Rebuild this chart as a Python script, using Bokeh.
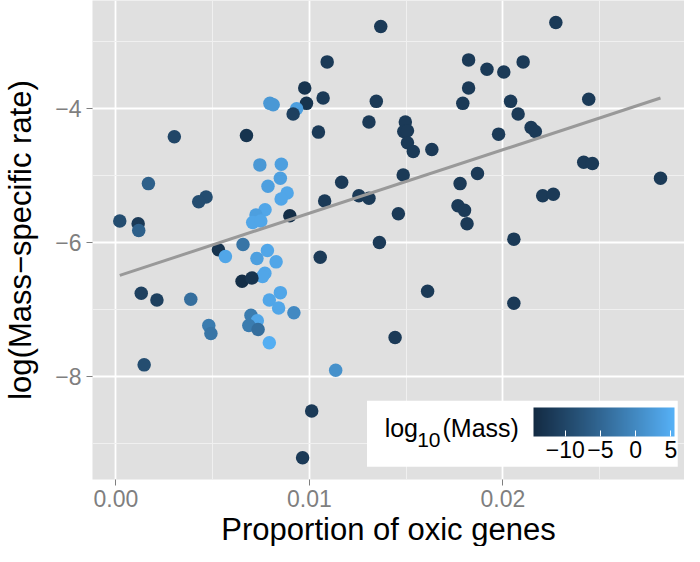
import numpy as np
from bokeh.plotting import figure
from bokeh.models import (ColumnDataSource, Range1d, FixedTicker, CustomJSTickFormatter,
                          LinearColorMapper, ColorBar, Label, BoxAnnotation, AllLabels, Title)
from bokeh.embed import file_html
from bokeh.resources import INLINE

# ---------------- data ----------------
oxic = [0.01369, 0.01092, 0.00976, 0.01071, 0.01346, 0.00985, 0.00796, 0.00813, 0.00934, 0.00916,
        0.01308, 0.00302, 0.00675, 0.01047, 0.00744, 0.00855, 0.00850, 0.00786, 0.01167, 0.00168,
        0.00466, 0.00428, 0.00885, 0.00854, 0.01079, 0.01256, 0.01308, 0.00771, 0.00724, 0.00707,
        0.00749, 0.00899, 0.00020, 0.00115, 0.00118, 0.01362, 0.00657, 0.00530, 0.00566, 0.00783,
        0.00729, 0.00828, 0.01056, 0.00770, 0.00758, 0.00652, 0.00703, 0.00131, 0.00212, 0.00387,
        0.00850, 0.00793, 0.00841, 0.00920, 0.00698, 0.00731, 0.00687, 0.00735, 0.00480, 0.00491,
        0.00793, 0.00146, 0.01136, 0.01012, 0.00965, 0.02274, 0.01823, 0.01918, 0.02005, 0.02105,
        0.01823, 0.01793, 0.02040, 0.02444, 0.02079, 0.01496, 0.01488, 0.01507, 0.01507, 0.01537,
        0.01633, 0.01978, 0.02146, 0.02168, 0.01485, 0.01779, 0.01869, 0.02418, 0.02463, 0.02815,
        0.02206, 0.02261, 0.01460, 0.01768, 0.01802, 0.01815, 0.02057, 0.01611, 0.02057, 0.01443]

rate = [-2.77, -3.30, -3.69, -3.84, -3.89, -3.92, -3.92, -3.94, -4.00, -4.08,
        -4.20, -4.42, -4.40, -4.35, -4.84, -4.83, -5.04, -5.16, -5.10, -5.12,
        -5.32, -5.39, -5.26, -5.35, -5.38, -5.30, -5.34, -5.51, -5.59, -5.70,
        -5.68, -5.60, -5.68, -5.72, -5.82, -6.00, -6.03, -6.11, -6.21, -6.12,
        -6.24, -6.29, -6.22, -6.46, -6.51, -6.58, -6.53, -6.76, -6.86, -6.85,
        -6.75, -6.86, -6.98, -7.05, -7.09, -7.17, -7.24, -7.30, -7.24, -7.36,
        -7.50, -7.83, -7.91, -8.52, -9.22, -2.71, -3.27, -3.41, -3.45, -3.30,
        -3.69, -3.92, -3.89, -3.86, -4.08, -4.20, -4.34, -4.33, -4.51, -4.64,
        -4.61, -4.38, -4.28, -4.34, -4.99, -5.12, -4.97, -4.80, -4.82, -5.04,
        -5.30, -5.28, -5.57, -5.45, -5.52, -5.72, -5.95, -6.73, -6.91, -7.42]

log_mass = [-12, -12, -13, -12, -12, -13, 2, 2, 3, -11,
            -12, -10, -13, -12, 2, 3, 3, 3, -12, -6,
            -9, -9, 4, 4, -12, -12, -12, 4, 3, 4,
            4, -14, -9, -12, -6, -12, -3, -13, 4, 4,
            3, 4, -12, 4, 4, -14, -13, -11, -11, -4,
            4, 4, 4, 0, -2, 4, -2, -4, -2, -3,
            5, -9, 1, -12, -12, -12, -12, -12, -12, -12,
            -12, -12, -12, -12, -12, -12, -12, -12, -12, -12,
            -12, -12, -12, -12, -12, -12, -12, -12, -12, -12,
            -12, -12, -12, -12, -12, -12, -12, -12, -12, -12]

x_ticks = [0.0, 0.01, 0.02]
y_ticks = [-8, -6, -4]
mass_ticks = [-10, -5, 0, 5]
mass_limits = [-14.5, 5.5]

# ---------------- palette: ggplot2 default gradient (Lab interpolation) ----------------
def _hex2rgb(h):
    h = h.lstrip('#')
    return [int(h[i:i + 2], 16) / 255.0 for i in (0, 2, 4)]

def _to_lin(c):
    return c / 12.92 if c <= 0.04045 else ((c + 0.055) / 1.055) ** 2.4

def _from_lin(c):
    v = 12.92 * c if c <= 0.0031308 else 1.055 * c ** (1 / 2.4) - 0.055
    return min(1.0, max(0.0, v))

_M = np.array([[0.4124, 0.3576, 0.1805], [0.2126, 0.7152, 0.0722], [0.0193, 0.1192, 0.9505]])
_W = np.array([0.95047, 1.0, 1.08883])

def _f(t):
    return t ** (1 / 3) if t > 216 / 24389 else (24389 / 27 * t + 16) / 116

def _finv(t):
    return t ** 3 if t ** 3 > 216 / 24389 else (116 * t - 16) / (24389 / 27)

def rgb2lab(rgb):
    xyz = _M @ np.array([_to_lin(c) for c in rgb]) / _W
    fx, fy, fz = (_f(v) for v in xyz)
    return np.array([116 * fy - 16, 500 * (fx - fy), 200 * (fy - fz)])

def lab2hex(lab):
    L, a, b = lab
    fy = (L + 16) / 116
    fx = fy + a / 500
    fz = fy - b / 200
    xyz = np.array([_finv(fx), _finv(fy), _finv(fz)]) * _W
    lin = np.linalg.solve(_M, xyz)
    return "#%02x%02x%02x" % tuple(int(round(_from_lin(c) * 255)) for c in lin)

lo, hi = rgb2lab(_hex2rgb("#132B43")), rgb2lab(_hex2rgb("#56B1F7"))
palette = [lab2hex(lo + (hi - lo) * t) for t in np.linspace(0, 1, 256)]

mapper = LinearColorMapper(palette=palette, low=mass_limits[0], high=mass_limits[1])

# ---------------- figure ----------------
FONT = "Liberation Sans"
p = figure(width=684, height=546, output_backend="svg", toolbar_location=None,
           x_range=Range1d(-0.00121, 0.02939), y_range=Range1d(-9.544, -2.382),
           min_border_left=83, min_border_right=0, min_border_top=0, min_border_bottom=0)
p.background_fill_color = "#E0E0E0"
p.border_fill_color = "white"
p.outline_line_color = None

# grids
p.xaxis.ticker = FixedTicker(ticks=x_ticks, minor_ticks=[0.005, 0.015, 0.025])
p.yaxis.ticker = FixedTicker(ticks=y_ticks, minor_ticks=[-9, -7, -5, -3])
for g in (p.xgrid, p.ygrid):
    g.grid_line_color = "white"
    g.grid_line_width = 1.8
    g.minor_grid_line_color = "#F0F0F0"
    g.minor_grid_line_width = 1

minus_fmt = CustomJSTickFormatter(code="return (tick < 0 ? '\u2212' : '') + Math.abs(tick).toFixed(0);")
p.xaxis.formatter = CustomJSTickFormatter(code="return tick.toFixed(2);")
p.yaxis.formatter = minus_fmt

for ax in (p.xaxis, p.yaxis):
    ax.axis_line_color = None
    ax.major_tick_line_color = "#7F7F7F"
    ax.major_tick_in = 0
    ax.major_tick_out = 6
    ax.minor_tick_line_color = None
    ax.major_label_text_color = "#7F7F7F"
    ax.major_label_text_font = FONT
    ax.major_label_text_font_size = "23px"
    ax.major_label_standoff = 5
    ax.axis_label_text_font = FONT
    ax.axis_label_text_font_size = "31px"
    ax.axis_label_text_font_style = "normal"
    ax.axis_label_text_color = "black"

p.xaxis.major_label_standoff = 4
p.yaxis.axis_label = "log(Mass\u2212specific rate)"
p.yaxis.axis_label_standoff = 14

# x-axis title as a Title in the bottom panel (tighter than an axis label)
p.add_layout(Title(text="Proportion of oxic genes", align="center", vertical_align="bottom",
                   text_font=FONT, text_font_size="31px", text_font_style="normal",
                   text_color="black", standoff=0, offset=0), "below")

# points
src = ColumnDataSource(dict(x=oxic, y=rate, m=log_mass))
p.scatter("x", "y", source=src, size=13.5,
          fill_color={"field": "m", "transform": mapper}, line_color=None)

# linear fit
coef = np.polyfit(oxic, rate, 1)
fx = np.array([min(oxic), max(oxic)])
p.line(fx, np.polyval(coef, fx), line_color="#999999", line_width=3)

# legend
p.add_layout(BoxAnnotation(left=0.01298, right=0.02904, bottom=-9.353, top=-8.368,
                           fill_color="white", fill_alpha=1.0, line_color=None))
p.add_layout(Label(x=0.01389, y=-8.779, text="log", text_font=FONT, text_font_size="25px",
                   text_baseline="alphabetic", text_color="black"))
p.add_layout(Label(x=0.01557, y=-8.95, text="10", text_font=FONT, text_font_size="21px",
                   text_baseline="alphabetic", text_color="black"))
p.add_layout(Label(x=0.01688, y=-8.779, text="(Mass)", text_font=FONT, text_font_size="25px",
                   text_baseline="alphabetic", text_color="black"))

cb = ColorBar(color_mapper=mapper, orientation="horizontal", location=(441, 19),
              width=141, height=29, padding=0, title=None,
              ticker=FixedTicker(ticks=mass_ticks), formatter=minus_fmt,
              major_label_policy=AllLabels(),
              major_tick_line_color="white", major_tick_in=6, major_tick_out=0,
              minor_tick_line_color=None,
              major_label_text_font=FONT, major_label_text_font_size="23px",
              major_label_text_color="black", label_standoff=4,
              bar_line_color=None, border_line_color=None,
              background_fill_color=None)
p.add_layout(cb, "center")

open("out.html", "w").write(file_html(p, INLINE))
